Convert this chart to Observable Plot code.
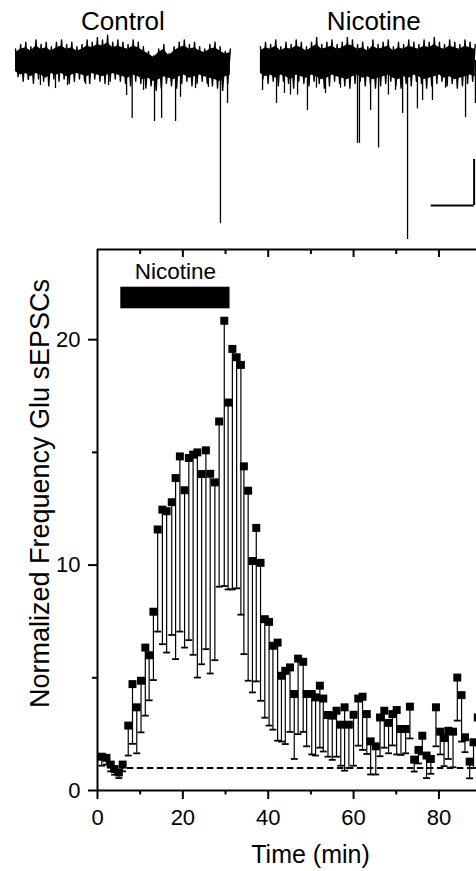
<!DOCTYPE html>
<html>
<head>
<meta charset="utf-8">
<script src="https://cdn.jsdelivr.net/npm/d3@7"></script>
<script src="https://cdn.jsdelivr.net/npm/@observablehq/plot@0.6"></script>
<style>
  html, body { margin: 0; padding: 0; background: #fff; overflow: hidden; }
  #chart svg { display: block; }
</style>
</head>
<body>
<div id="chart"></div>
<script>
// ================= DATA: example current traces (top panel) =================
const traceTitles = ["Control", "Nicotine"];
const traceTitleMs = [500, 1668];          // centre of each title, ms
const traceStartMs = [0, 1140];            // where each 1 s sweep starts
const traceLengthMs = 1000;
// upper / lower noise envelope of each sweep (pA), read every ~24 ms
const ctrlHi = [5,7,8,6,9,7,8,6,8,9,7,8,6,7,9,8,10,9,11,8,9,8,7,9,8,6,4,2,5,7,3,6,8,9,7,8,6,5,7,8,6,4,5];
const ctrlLo = [-7,-9,-8,-10,-8,-9,-11,-8,-9,-8,-10,-9,-8,-9,-10,-8,-9,-10,-9,-8,-9,-10,-11,-9,-10,-12,-11,-13,-12,-10,-11,-12,-10,-9,-11,-10,-9,-10,-11,-12,-13,-10,-9];
const nicHi = [6,8,7,9,6,8,7,9,8,6,8,10,7,8,9,7,8,10,9,7,8,6,9,7,8,9,6,8,7,9,8,7,9,8,10,8,7,9,8,7,9,8,7];
const nicLo = [-8,-10,-9,-11,-9,-10,-12,-9,-10,-11,-9,-10,-12,-11,-9,-10,-11,-12,-10,-9,-11,-10,-12,-11,-10,-9,-11,-12,-10,-11,-9,-10,-12,-11,-10,-9,-11,-10,-12,-11,-10,-9,-10];
// spontaneous EPSCs (downward events): time (ms) and peak (pA)
const ctrlEventMs  = [60,116,186,242,326,433,517,543,596,647,680,745,768,838,898,954,987];
const ctrlEventAmp = [-8.7,-10.9,-12.2,-10.9,-10.4,-10.9,-15.2,-25.2,-13,-26.5,-25.2,-26.5,-16,-12.2,-11.7,-70.9,-18.7];
const nicEventMs  = [1150,1215,1252,1280,1313,1359,1401,1443,1513,1592,1601,1653,1690,1736,1769,1802,1825,1871,1895,1941,2002,2095,2141];
const nicEventAmp = [-13,-18.7,-14.3,-15,-15,-21.7,-12,-14.3,-12,-36,-36,-21.7,-38,-15,-13,-23,-77.8,-21,-17.4,-17.4,-12,-24.8,-18.7];
// calibration bar: 200 ms x 20 pA
const calMs = [1935, 2135];
const calPa = [-43, -63];

// ================= DATA: time course =================
const timeMin = [1.0,2.1,3.1,4.0,5.0,5.9,7.2,8.2,9.2,10.2,11.2,12.1,13.1,14.1,15.2,16.2,17.4,18.3,19.3,20.4,21.4,22.4,23.4,24.4,25.4,26.4,27.5,28.5,29.7,30.6,31.6,32.6,33.6,34.3,35.3,36.3,37.2,38.2,39.2,40.2,41.1,42.2,43.1,44.0,45.1,46.1,47.0,48.2,49.0,50.2,51.1,52.1,52.9,54.0,55.0,56.0,57.0,57.9,58.9,60.0,61.1,62.1,63.1,64.0,65.2,66.2,67.2,68.2,69.1,70.1,71.1,72.2,73.2,74.2,75.2,76.1,77.1,78.1,79.3,80.3,81.2,82.2,83.3,84.3,85.3,86.1,87.2,88.1,89.1];
const meanFreq = [1.5,1.45,1.15,0.95,0.8,1.15,2.88,4.72,3.69,4.87,6.34,6.0,7.93,11.58,12.46,12.39,12.79,13.86,14.82,13.32,14.75,14.9,15.0,14.04,15.09,14.05,13.67,16.37,20.84,17.21,19.59,19.22,18.88,14.38,13.3,10.18,11.65,10.1,7.6,7.48,6.42,6.56,5.09,5.31,5.46,4.28,5.85,5.71,4.28,4.28,4.13,4.65,4.08,3.35,3.32,3.54,2.92,3.69,2.92,3.36,4.08,4.16,3.39,2.18,1.96,3.24,3.54,3.0,3.39,3.57,2.73,2.73,3.72,1.37,1.8,2.43,1.55,1.4,3.69,2.61,2.33,2.65,2.61,5.01,4.23,2.36,1.28,2.14,3.24];
const lowerErr = [1.1,1.15,0.85,0.7,0.55,0.85,1.55,2.07,1.65,2.58,3.32,4.0,4.9,7.05,6.49,6.12,6.9,5.83,7.05,6.34,6.67,6.02,5.01,5.6,6.27,5.19,5.78,9.04,9.07,8.92,8.92,8.97,7.8,6.05,4.87,4.35,4.84,3.98,3.23,2.88,2.7,2.21,2.17,2.06,2.6,1.4,2.5,2.6,1.96,1.6,1.55,1.9,1.73,1.5,1.36,1.5,1.1,0.88,1.0,1.1,1.99,1.8,1.62,0.71,0.71,1.52,1.9,1.65,2.0,1.6,1.58,1.65,2.31,0.84,1.2,1.6,0.55,0.74,1.96,1.6,1.08,1.4,1.03,3.1,2.17,1.7,0.54,1.0,2.0];
const drugName = "Nicotine";
const drugStart = 5.46;
const drugEnd = 31.05;
const baselineLevel = 1;
const baselineFrom = 7;
const xMajorTicks = [0, 20, 40, 60, 80];
const xMinorTicks = [10, 30, 50, 70];
const yMajorTicks = [0, 10, 20];
const yMinorTicks = [5, 15];
const xLabel = "Time (min)";
const yLabel = "Normalized Frequency Glu sEPSCs";

// ================= build tables =================
function sweep(hi, lo, start) {
  const step = traceLengthMs / (hi.length - 1);
  const env = hi.map((h, i) => ({ms: start + i * step, hi: h, lo: lo[i]}));
  const zig = [];
  hi.forEach((h, i) => {
    zig.push({ms: start + i * step, v: h});
    if (i < hi.length - 1) zig.push({ms: start + (i + 0.5) * step, v: lo[i]});
  });
  return {env, zig};
}
const ctrl = sweep(ctrlHi, ctrlLo, traceStartMs[0]);
const nic = sweep(nicHi, nicLo, traceStartMs[1]);
const ctrlEvents = ctrlEventMs.map((t, i) => ({ms: t, amp: ctrlEventAmp[i]}));
const nicEvents = nicEventMs.map((t, i) => ({ms: t, amp: nicEventAmp[i]}));
const titles = traceTitles.map((s, i) => ({label: s, ms: traceTitleMs[i]}));

const points = timeMin.map((t, i) => ({t, m: meanFreq[i], lo: lowerErr[i]}));
const drug = [{label: drugName, start: drugStart, end: drugEnd}];

const font = "'Liberation Sans', Arial, Helvetica, sans-serif";
const capSymbol = {draw(ctx, size) { const w = Math.sqrt(size) / 2; ctx.moveTo(-w, 0); ctx.lineTo(w, 0); }};

// ================= top panel: traces =================
const traces = Plot.plot({
  width: 476, height: 245,
  marginTop: 0, marginRight: 0, marginBottom: 0, marginLeft: 0,
  x: {domain: [-70, 2146], axis: null},
  y: {domain: [-80.4, 26.1], axis: null},
  style: {fontFamily: font, color: "black", background: "white"},
  marks: [
    Plot.areaY(ctrl.env, {x: "ms", y1: d => d.lo * 0.7, y2: d => d.hi * 0.7, fill: "black"}),
    Plot.areaY(nic.env, {x: "ms", y1: d => d.lo * 0.7, y2: d => d.hi * 0.7, fill: "black"}),
    Plot.line(ctrl.zig, {x: "ms", y: "v", stroke: "black", strokeWidth: 1.4}),
    Plot.line(nic.zig, {x: "ms", y: "v", stroke: "black", strokeWidth: 1.4}),
    Plot.ruleX(ctrlEvents, {x: "ms", y1: 0, y2: "amp", stroke: "black", strokeWidth: 1.3}),
    Plot.ruleX(nicEvents, {x: "ms", y1: 0, y2: "amp", stroke: "black", strokeWidth: 1.3}),
    Plot.ruleX([calMs[1]], {y1: calPa[0], y2: calPa[1], stroke: "black", strokeWidth: 2}),
    Plot.ruleY([calPa[1]], {x1: calMs[0], x2: calMs[1], stroke: "black", strokeWidth: 2}),
    Plot.text(titles, {x: "ms", text: "label", frameAnchor: "top", dy: 29.3, lineAnchor: "bottom", fontSize: 26, fill: "black"})
  ]
});

// ================= main panel: time course =================
const main = Plot.plot({
  width: 476, height: 626,
  marginTop: 4, marginRight: 0, marginBottom: 81, marginLeft: 97,
  x: {domain: [0, 88.8]},
  y: {domain: [0, 24]},
  style: {fontFamily: font, color: "black", background: "white"},
  marks: [
    // frame
    Plot.ruleY([0], {stroke: "black", strokeWidth: 2}),
    Plot.ruleY([24], {stroke: "black", strokeWidth: 2}),
    Plot.ruleX([0], {stroke: "black", strokeWidth: 2}),
    Plot.ruleX(xMajorTicks.slice(1), {y1: 24, y2: 24, insetBottom: -8, stroke: "black", strokeWidth: 2}),
    Plot.ruleX(xMinorTicks, {y1: 24, y2: 24, insetBottom: -5, stroke: "black", strokeWidth: 2}),
    // axes
    Plot.axisX({ticks: xMajorTicks, tickSize: 9, tickPadding: 10, fontSize: 22, label: null, strokeWidth: 2}),
    Plot.axisX({ticks: xMinorTicks, tickSize: 4.5, tickFormat: () => "", label: null, strokeWidth: 2}),
    Plot.axisY({ticks: yMajorTicks, tickSize: 9, tickPadding: 8, fontSize: 22, label: null, strokeWidth: 2}),
    Plot.axisY({ticks: yMinorTicks, tickSize: 5, tickFormat: () => "", label: null, strokeWidth: 2}),
    Plot.text([xLabel], {frameAnchor: "bottom", dx: 23.5, dy: 72.7, lineAnchor: "bottom", textAnchor: "middle", fontSize: 25, fill: "black"}),
    Plot.text([yLabel], {frameAnchor: "left", rotate: -90, dx: -57, dy: -26.5, lineAnchor: "middle", textAnchor: "middle", fontSize: 27, fill: "black"}),
    // drug application bar
    Plot.rect(drug, {x1: "start", x2: "end", insetTop: 37.7, insetBottom: 481.7, fill: "black"}),
    Plot.text(drug, {x: d => (d.start + d.end) / 2, text: "label", frameAnchor: "top", dy: 29.3, lineAnchor: "bottom", fontSize: 22.5, fill: "black"}),
    // baseline
    Plot.ruleY([baselineLevel], {x1: baselineFrom, x2: 88.8, stroke: "black", strokeWidth: 2, strokeDasharray: "6.5,3.5"}),
    // data: downward SEM bars, caps, squares
    Plot.ruleX(points, {x: "t", y1: "lo", y2: "m", stroke: "black", strokeWidth: 1.2}),
    Plot.dot(points, {x: "t", y: "lo", symbol: capSymbol, r: 3.9, stroke: "black", strokeWidth: 1.8, fill: "none"}),
    Plot.dot(points, {x: "t", y: "m", symbol: "square", r: 4.5, fill: "black", stroke: "none"})
  ]
});

const root = document.getElementById("chart");
root.appendChild(traces);
root.appendChild(main);
</script>
</body>
</html>
